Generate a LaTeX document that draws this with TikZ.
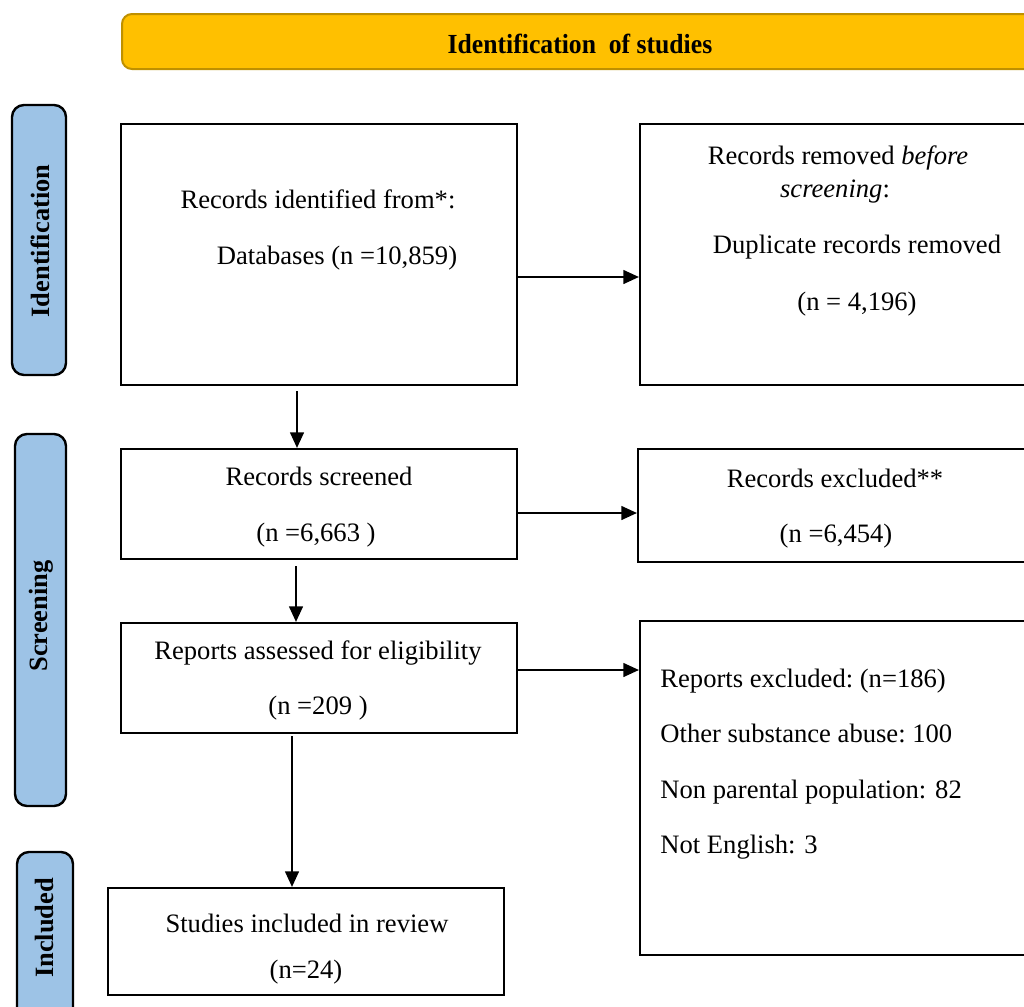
\documentclass[tikz,border=0pt]{standalone}
\usepackage{fontspec}
\setmainfont{Liberation Serif}
\usetikzlibrary{arrows.meta,fit}
\definecolor{bannerfill}{HTML}{FFC000}
\definecolor{bannerline}{HTML}{BF9000}
\definecolor{sideblue}{HTML}{9DC3E6}
\begin{document}
\begin{tikzpicture}[x=0.5pt,y=-0.5pt,
  box/.style={draw=black, line width=1.1pt, inner sep=0pt},
  lbl/.style={font=\fontsize{13.3}{16}\selectfont, inner sep=0pt, anchor=mid, yshift=-2pt},
  lleft/.style={font=\fontsize{13.3}{16}\selectfont, inner sep=0pt, anchor=mid west, yshift=-2pt},
  sidebox/.style={draw=black, line width=1.2pt, fill=sideblue, rounded corners=6pt, inner sep=0pt},
  sidetxt/.style={font=\fontsize{13.2}{15}\selectfont\bfseries, rotate=90, inner sep=0pt},
  banner/.style={draw=bannerline, line width=1pt, fill=bannerfill, rounded corners=5pt, inner sep=0pt},
  arr/.style={-{Triangle[length=7.8pt,width=7pt]}, line width=0.7pt}
]
\useasboundingbox (0,0) rectangle (1024,1007);
\clip (0,0) rectangle (1024,1007);
\fill[white] (0,0) rectangle (1024,1007);

% banner
\node[banner, fit={(122,14) (1040,69)}] (ban) {};
\node[font=\fontsize{13.8}{16}\selectfont\bfseries, inner sep=0pt] (bant) at (580,44) {\scalebox{0.93}[1]{Identification\ \ of studies}};

% side labels
\node[sidebox, fit={(12,105) (66,375)}] (sid) {};
\node[sidetxt] (sidt) at (40,241) {Identification};
\node[sidebox, fit={(15,434) (66,806)}] (sscr) {};
\node[sidetxt] (sscrt) at (41,616) {Screening};
\node[sidebox, fit={(17,852) (73,1030)}] (sinc) {};
\node[sidetxt] (sinct) at (45,928) {Included};

% boxes
\node[box, fit={(121,124) (517,385)}] (b1) {};
\node[box, fit={(640,124) (1040,385)}] (b2) {};
\node[box, fit={(121,449) (517,559)}] (b3) {};
\node[box, fit={(638,449) (1040,562)}] (b4) {};
\node[box, fit={(121,623) (517,733)}] (b5) {};
\node[box, fit={(640,621) (1040,955)}] (b6) {};
\node[box, fit={(108,888) (504,995)}] (b7) {};

% texts
\node[lbl] (t1a) at (318,200) {Records identified from*:};
\node[lbl] (t1b) at (337,256) {Databases (n =10,859)};

\node[lbl] (t2a) at (838,156) {Records removed \textit{before}};
\node[lbl] (t2b) at (835,189) {\textit{screening}:};
\node[lbl] (t2c) at (857,245) {Duplicate records removed};
\node[lbl] (t2d) at (857,302) {(n = 4,196)};

\node[lbl] (t3a) at (319,477) {Records screened};
\node[lbl] (t3b) at (316,533) {(n =6,663 )};

\node[lbl] (t4a) at (835,479) {Records excluded**};
\node[lbl] (t4b) at (836,534) {(n =6,454)};

\node[lbl] (t5a) at (318,651) {Reports assessed for eligibility};
\node[lbl] (t5b) at (318,706) {(n =209 )};

\node[lleft] (t6a) at (660,679) {Reports excluded:\ (n=186)};
\node[lleft] (t6b) at (660,734) {Other substance abuse:\ 100};
\node[lleft] (t6c) at (660,790) {Non parental\ population: 82};
\node[lleft] (t6d) at (660,845) {Not English: 3};

\node[lbl] (t7a) at (307,924) {Studies included in review};
\node[lbl] (t7b) at (306,970) {(n=24)};

% arrows
\draw[arr] ([yshift=-11.25pt]b1.east) -- ([yshift=-11.25pt]b1.east -| b2.west);
\draw[arr] ([xshift=-11pt,yshift=-2.5pt]b1.south) -- ([xshift=-11pt]b1.south |- b3.north);
\draw[arr] ([yshift=-4.5pt]b3.east) -- ([yshift=-4.5pt]b3.east -| b4.west);
\draw[arr] ([xshift=-11.5pt,yshift=-3pt]b3.south) -- ([xshift=-11.5pt]b3.south |- b5.north);
\draw[arr] ([yshift=4pt]b5.east) -- ([yshift=4pt]b5.east -| b6.west);
\draw[arr] ([xshift=-13.5pt,yshift=-1pt]b5.south) -- ([xshift=-13.5pt]b5.south |- b7.north);
\end{tikzpicture}
\end{document}
